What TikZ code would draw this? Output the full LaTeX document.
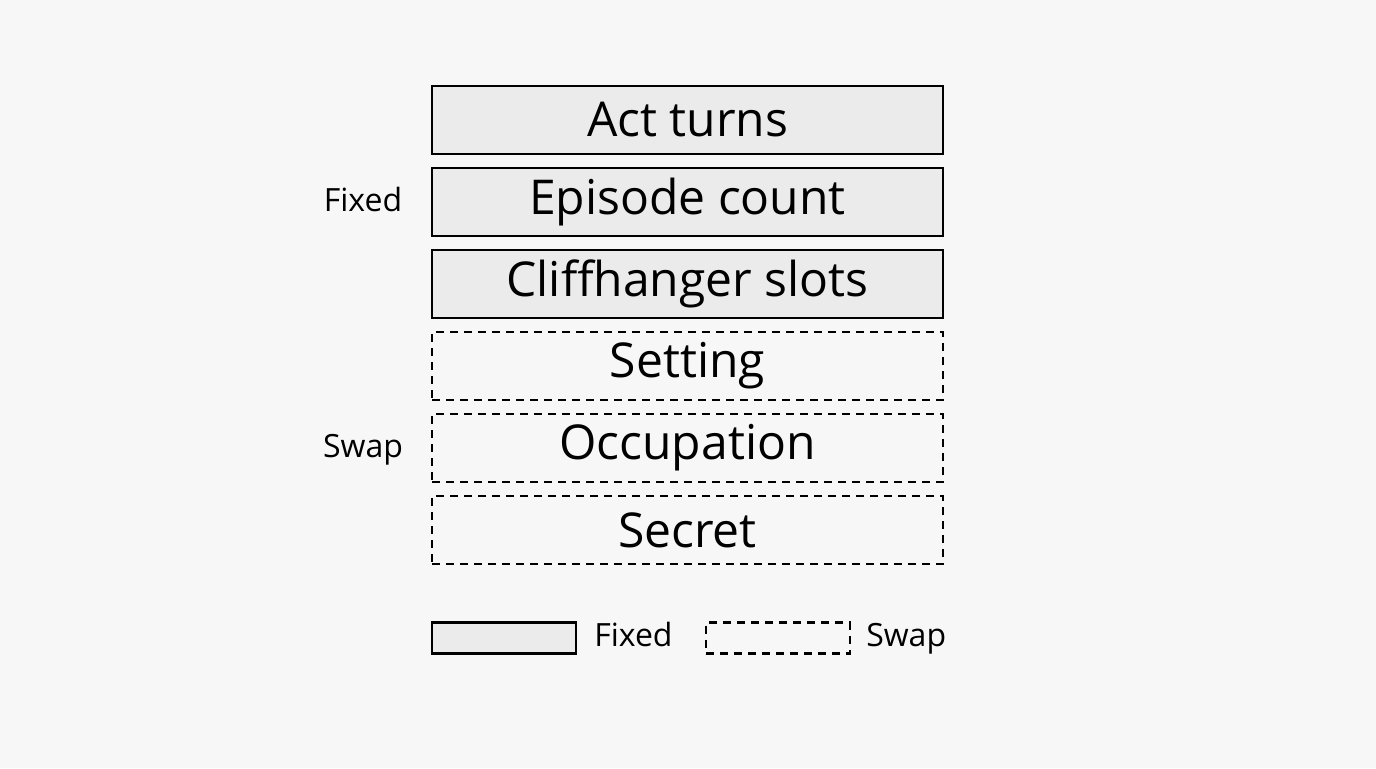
\documentclass[tikz,border=0pt]{standalone}
\usepackage{fontspec}
\setmainfont{Open Sans}
\usetikzlibrary{positioning}

\begin{document}
\begin{tikzpicture}[x=0.5pt,y=-0.5pt,
  slot/.style={draw,line width=1.2pt,minimum width=255.5pt,minimum height=34pt,inner sep=0pt,font=\fontsize{24}{27}\selectfont},
  fixed/.style={slot,fill=black!8},
  swap/.style={slot,dashed,dash pattern=on 4pt off 3pt},
  side/.style={font=\fontsize{16}{19}\selectfont,text height=11pt,text depth=3pt},
  key/.style={draw,line width=1.2pt,minimum width=72pt,minimum height=15.5pt,inner sep=0pt}]
  \fill[black!3] (0,0) rectangle (1376,768);
  % stacked slots
  \node[fixed] (act) at (687.5,120) {Act turns};
  \node[fixed,below=5.8pt of act] (episode) {Episode count};
  \node[fixed,below=5.8pt of episode] (cliff) {Cliffhanger slots};
  \node[swap,below=5.8pt of cliff] (setting) {Setting};
  \node[swap,below=5.8pt of setting] (occupation) {Occupation};
  \node[swap,below=5.8pt of occupation] (secret) {Secret};
  % side labels
  \node[side] (fixedlbl) at (363,203) {Fixed};
  \node[side] (swaplbl) at (363,449) {Swap};
  % legend
  \node[key,fill=black!8] (keyfixed) at (504,638) {};
  \node[side,right=5pt of keyfixed] (keyfixedlbl) {Fixed};
  \node[key,dashed,dash pattern=on 4pt off 3pt] (keyswap) at (778,638) {};
  \node[side,right=4pt of keyswap] (keyswaplbl) {Swap};
\end{tikzpicture}
\end{document}
